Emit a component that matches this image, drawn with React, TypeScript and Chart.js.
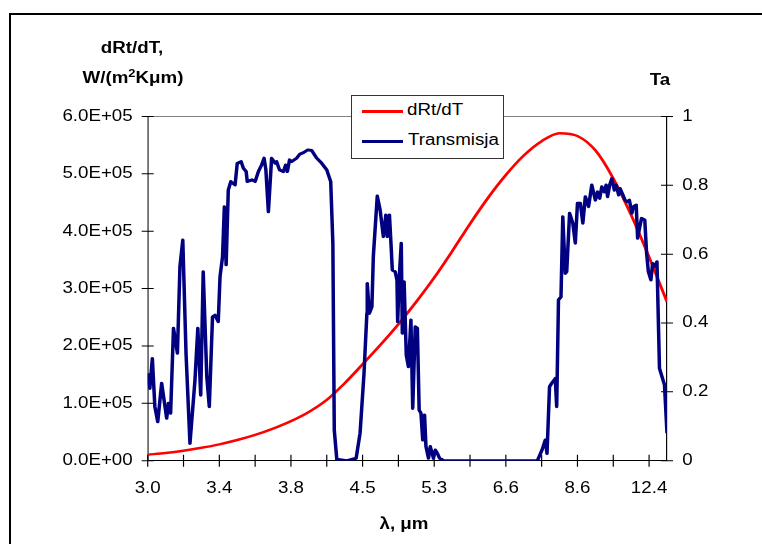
import React, { useEffect, useRef } from 'react';
import { Chart, registerables } from 'chart.js';

Chart.register(...registerables);

// ---- data ----
// category positions run 0..145 (equal steps), one tick mark every 10 categories
const xTickLabels = ['3.0', '3.4', '3.8', '4.5', '5.3', '6.6', '8.6', '12.4']; // every 20 categories
const leftTickLabels = ['0.0E+00', '1.0E+05', '2.0E+05', '3.0E+05', '4.0E+05', '5.0E+05', '6.0E+05'];
const rightTickLabels = ['0', '0.2', '0.4', '0.6', '0.8', '1'];

const dRtCategory = [0, 5, 10, 15, 20, 25, 30, 35, 40, 45, 50, 55, 60, 65, 70, 75, 80, 85, 90, 95, 100, 105, 110, 115, 120, 125, 130, 135, 140, 145];
const dRtValues = [10500, 13500, 17500, 22500, 28500, 36000, 45000, 56000, 69000, 85000, 106000, 135000, 168000, 202000, 238000, 277000, 319000, 365000, 413000, 458000, 498000, 532000, 557000, 571000, 566000, 541000, 492000, 428000, 355000, 277000];

const taCategory = [
  0, 0.6, 1.3, 2.0, 2.8, 3.9, 5.3, 5.8, 6.4, 7.2, 8.3, 9.0, 9.8, 10.7, 11.8, 13.2, 14.0, 14.8, 15.5, 16.5,
  17.2, 18.1, 18.8, 19.7, 20.2, 20.9, 21.4, 21.9, 22.5, 23.2, 24.4, 25.0, 26.1, 26.7, 27.5, 27.8, 29.1, 30.0, 30.9, 31.8,
  32.5, 33.0, 33.7, 34.6, 35.6, 36.0, 36.8, 37.9, 38.5, 39.0, 39.6, 40.2, 41.6, 42.5, 43.5, 44.7, 45.8, 47.2, 48.6, 50.0,
  51.1, 51.7, 52.1, 52.8, 55.6, 58.2, 59.3, 60.4, 61.2, 61.3, 61.9, 62.6, 63.0, 64.1, 64.9, 65.8, 66.5, 66.9, 67.5, 68.0,
  68.3, 69.1, 69.6, 69.8, 70.2, 70.8, 71.1, 71.6, 72.2, 72.8, 73.5, 74.0, 74.7, 75.3, 75.8, 76.3, 76.8, 77.3, 77.7, 78.4,
  78.9, 79.3, 79.8, 80.3, 80.9, 81.5, 82.1, 82.6, 108.8, 110.1, 111.0, 111.5, 112.2, 112.8, 113.8, 114.2, 114.7, 115.4, 115.9, 116.6,
  117.0, 117.8, 118.7, 119.4, 120.0, 120.8, 121.5, 122.2, 123.1, 124.0, 125.0, 125.6, 126.2, 126.8, 127.5, 128.0, 128.4, 129.0, 129.6, 130.3,
  130.8, 131.5, 131.9, 132.7, 133.3, 133.8, 134.5, 135.2, 135.6, 136.4, 136.8, 137.5, 137.9, 138.8, 139.3, 139.8, 140.5, 141.0, 141.7, 142.2,
  142.9, 144.3, 145.0,
];
const taValues = [
  0.254, 0.21, 0.297, 0.157, 0.113, 0.225, 0.123, 0.167, 0.138, 0.385, 0.312, 0.564, 0.641, 0.312, 0.05, 0.234, 0.385, 0.19, 0.549, 0.244,
  0.157, 0.418, 0.423, 0.404, 0.535, 0.593, 0.738, 0.569, 0.786, 0.811, 0.801, 0.864, 0.869, 0.85, 0.84, 0.811, 0.816, 0.811, 0.84, 0.859,
  0.879, 0.845, 0.723, 0.879, 0.864, 0.869, 0.845, 0.84, 0.859, 0.84, 0.874, 0.869, 0.879, 0.891, 0.895, 0.903, 0.901, 0.879, 0.864, 0.845,
  0.811, 0.632, 0.089, 0.004, 0.0, 0.007, 0.08, 0.254, 0.428, 0.515, 0.428, 0.447, 0.593, 0.769, 0.728, 0.651, 0.714, 0.651, 0.714, 0.617,
  0.554, 0.549, 0.525, 0.404, 0.525, 0.632, 0.37, 0.52, 0.307, 0.273, 0.409, 0.152, 0.389, 0.385, 0.147, 0.138, 0.06, 0.133, 0.041, 0.007,
  0.041, 0.026, 0.007, 0.031, 0.021, 0.007, 0.004, 0.0, 0.0, 0.031, 0.06, 0.021, 0.215, 0.225, 0.239, 0.157, 0.467, 0.476, 0.709, 0.544,
  0.549, 0.719, 0.69, 0.632, 0.748, 0.748, 0.69, 0.767, 0.738, 0.801, 0.757, 0.781, 0.762, 0.796, 0.781, 0.801, 0.767, 0.801, 0.82, 0.786,
  0.801, 0.772, 0.791, 0.772, 0.757, 0.752, 0.757, 0.719, 0.738, 0.743, 0.646, 0.685, 0.704, 0.699, 0.603, 0.549, 0.525, 0.573, 0.564, 0.578,
  0.268, 0.22, 0.08,
];

// ---- layout ----
const W = 762;
const H = 544;
const LW = 651; // logical drawing width, stretched horizontally to W
const S = W / LW;
const PLOT_LEFT = 147.7;
const PLOT_RIGHT = 667;
const PLOT_TOP = 116.5;
const PLOT_BOTTOM = 460.7;
const FONT = '"Liberation Sans", Arial, sans-serif';

const axisMarks = {
  id: 'axisMarks',
  beforeDraw(chart: any) {
    chart.ctx.setTransform(S, 0, 0, 1, 0, 0);
  },
  beforeDatasetsDraw(chart: any) {
    const { ctx, chartArea: a, scales } = chart;
    ctx.save();
    ctx.lineWidth = 1;
    ctx.strokeStyle = '#808080';
    ctx.beginPath();
    ctx.moveTo(a.left, a.top);
    ctx.lineTo(a.right, a.top);
    ctx.stroke();
    ctx.strokeStyle = '#000';
    const hl = 6 / S;
    ctx.beginPath();
    scales.y.ticks.forEach((t: any) => {
      const py = scales.y.getPixelForValue(t.value);
      ctx.moveTo(a.left - hl, py);
      ctx.lineTo(a.left + hl, py);
    });
    scales.y1.ticks.forEach((t: any) => {
      const py = scales.y1.getPixelForValue(t.value);
      ctx.moveTo(a.right - hl, py);
      ctx.lineTo(a.right + hl, py);
    });
    scales.x.ticks.forEach((t: any) => {
      const px = scales.x.getPixelForValue(t.value);
      ctx.moveTo(px, a.bottom - 6);
      ctx.lineTo(px, a.bottom + 6);
    });
    ctx.stroke();
    ctx.restore();
  },
};

export default function App() {
  const ref = useRef<HTMLCanvasElement | null>(null);

  useEffect(() => {
    const canvas = ref.current!;
    canvas.width = LW;
    canvas.height = H;
    const font = { family: FONT, size: 16 };
    const chart = new Chart(canvas, {
      type: 'line',
      data: {
        datasets: [
          {
            label: 'Transmisja',
            data: taCategory.map((x, i) => ({ x, y: taValues[i] })),
            yAxisID: 'y1',
            borderColor: '#000080',
            borderWidth: 3,
            pointRadius: 0,
            tension: 0,
            borderJoinStyle: 'round',
            order: 0,
          },
          {
            label: 'dRt/dT',
            data: dRtCategory.map((x, i) => ({ x, y: dRtValues[i] })),
            yAxisID: 'y',
            borderColor: '#ff0000',
            borderWidth: 2.5,
            pointRadius: 0,
            cubicInterpolationMode: 'monotone',
            order: 1,
          },
        ],
      },
      options: {
        animation: false,
        responsive: false,
        devicePixelRatio: 1,
        layout: { padding: { top: PLOT_TOP, left: 0, right: 0, bottom: 0 } },
        plugins: { legend: { display: false }, tooltip: { enabled: false } },
        scales: {
          x: {
            type: 'linear',
            min: 0,
            max: 145,
            afterFit: (s: any) => {
              s.height = H - PLOT_BOTTOM;
            },
            grid: { display: false, drawTicks: false },
            border: { display: true, color: '#000', width: 1 },
            ticks: {
              stepSize: 10,
              includeBounds: false,
              autoSkip: false,
              maxRotation: 0,
              padding: 18,
              font,
              color: '#000',
              callback: (v: any) => (Math.round(v) % 20 === 0 ? xTickLabels[Math.round(v) / 20] : ''),
            },
          },
          y: {
            type: 'linear',
            position: 'left',
            min: 0,
            max: 600000,
            afterFit: (s: any) => {
              s.width = PLOT_LEFT / S;
            },
            grid: { display: false, drawTicks: false },
            border: { display: true, color: '#222', width: 1 },
            ticks: {
              stepSize: 100000,
              padding: 15 / S,
              font,
              color: '#000',
              callback: (_v: any, i: number) => leftTickLabels[i],
            },
          },
          y1: {
            type: 'linear',
            position: 'right',
            min: 0,
            max: 1,
            afterFit: (s: any) => {
              s.width = (W - PLOT_RIGHT) / S;
            },
            grid: { display: false, drawTicks: false },
            border: { display: true, color: '#000', width: 1 },
            ticks: {
              stepSize: 0.2,
              padding: 15.3 / S,
              font,
              color: '#000',
              callback: (_v: any, i: number) => rightTickLabels[i],
            },
          },
        },
      },
      plugins: [axisMarks],
    } as any);
    canvas.width = W;
    chart.draw();
    return () => chart.destroy();
  }, []);

  const base: React.CSSProperties = {
    position: 'absolute',
    fontFamily: FONT,
    fontSize: 16,
    lineHeight: '16px',
    whiteSpace: 'nowrap',
    color: '#000',
  };
  const centered = (cx: number, baseline: number, bold: boolean): React.CSSProperties => ({
    ...base,
    left: cx,
    top: baseline - 13.5,
    fontWeight: bold ? 'bold' : 'normal',
    transform: `translateX(-50%) scaleX(${S})`,
  });
  const leftText = (x: number, baseline: number): React.CSSProperties => ({
    ...base,
    left: x,
    top: baseline - 13.5,
    transformOrigin: 'left center',
    transform: `scaleX(${S})`,
  });

  return (
    <div style={{ position: 'fixed', left: 0, top: 0, width: W, height: H, overflow: 'hidden', background: '#fff' }}>
      <div style={{ position: 'absolute', left: 9, top: 13, width: 900, height: 700, border: '2px solid #000' }} />
      <canvas ref={ref} width={LW} height={H} style={{ position: 'absolute', left: 0, top: 0, width: W, height: H }} />
      <div style={centered(132, 53, true)}>dRt/dT,</div>
      <div style={centered(132.5, 83, true)}>
        W/(m<span style={{ fontSize: 11, position: 'relative', top: -6 }}>2</span>Kμm)
      </div>
      <div style={centered(660, 85, true)}>Ta</div>
      <div style={centered(404, 529, true)}>λ, μm</div>
      <div style={{ position: 'absolute', left: 351, top: 95, width: 151, height: 62, border: '1px solid #333', background: '#fff' }} />
      <div style={{ position: 'absolute', left: 362, top: 109.5, width: 41, height: 3, background: '#ff0000' }} />
      <div style={{ position: 'absolute', left: 362, top: 140, width: 41, height: 3, background: '#000080' }} />
      <div style={leftText(407, 115)}>dRt/dT</div>
      <div style={leftText(408, 145)}>Transmisja</div>
    </div>
  );
}
